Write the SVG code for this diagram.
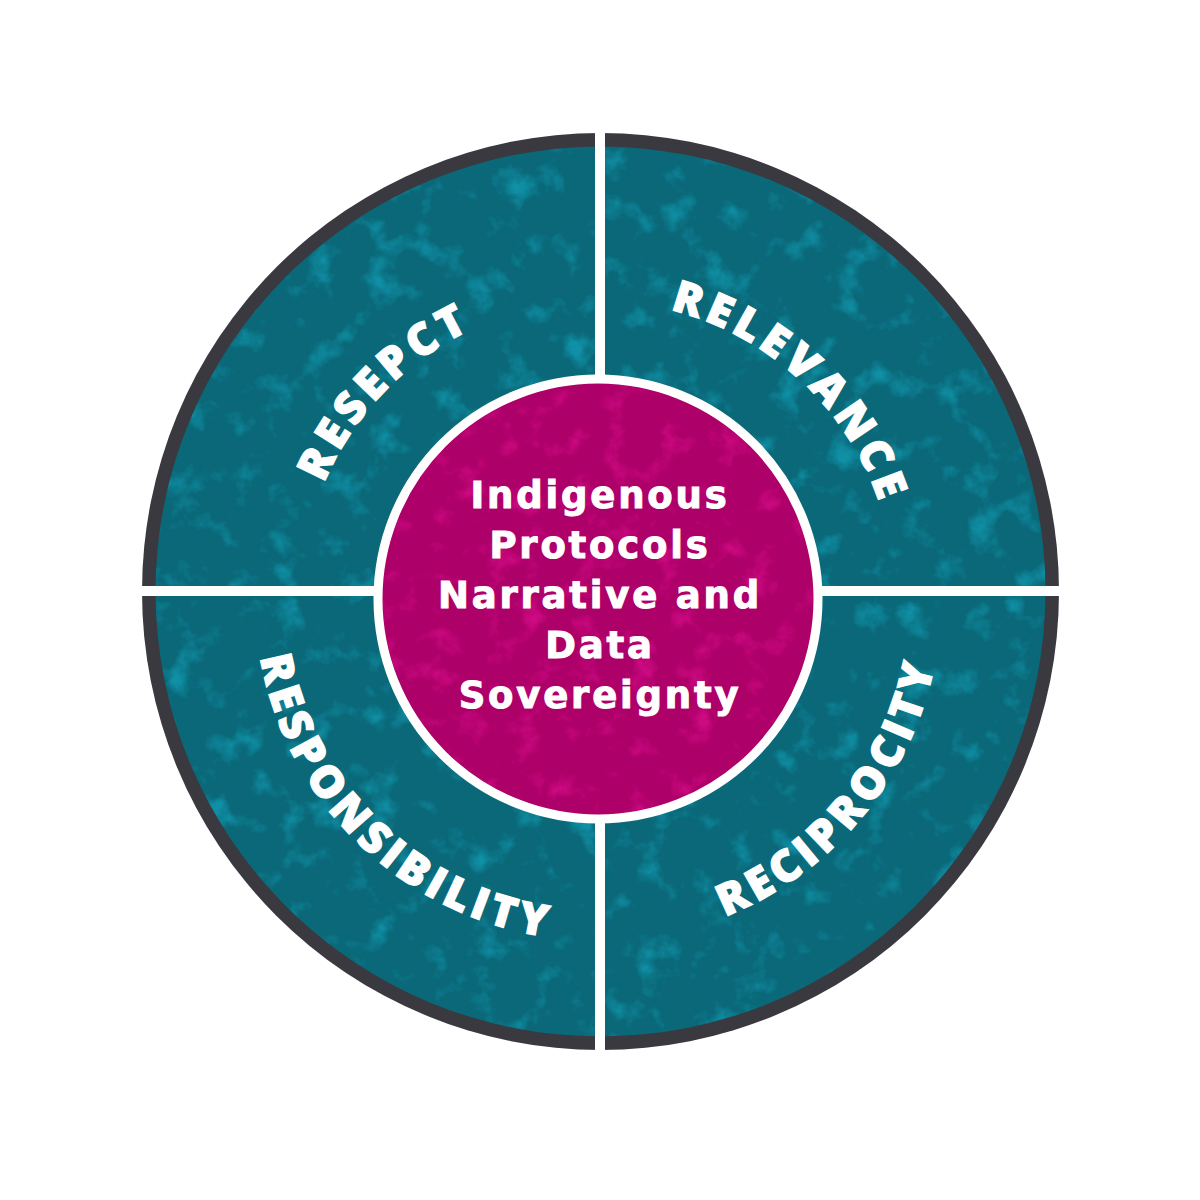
<svg xmlns="http://www.w3.org/2000/svg" width="1200" height="1200" viewBox="0 0 1200 1200">
  <style>
    .ring-text { font-family: "Open Sans", "Noto Sans", "DejaVu Sans", sans-serif; font-weight: 800; font-size: 44px; fill: #ffffff; stroke: #ffffff; stroke-width: 1.2px; letter-spacing: 5px; }
    .center-text { font-family: "DejaVu Sans", "Verdana", sans-serif; font-weight: bold; font-size: 37px; fill: #ffffff; stroke: #ffffff; stroke-width: 1px; letter-spacing: 2.8px; text-anchor: middle; }
    .divider { fill: #ffffff; }
  </style>
  <defs>
    <filter id="grungeTeal" x="0" y="0" width="100%" height="100%" color-interpolation-filters="sRGB">
      <feTurbulence type="fractalNoise" baseFrequency="0.03" numOctaves="4" seed="7" result="n"/>
      <feColorMatrix in="n" type="matrix" values="0 0 0 0 0.1  0 0 0 0 0.8  0 0 0 0 0.92  3.4 0 0 0 -1.85" result="c"/>
      <feComposite in="c" in2="SourceAlpha" operator="in"/>
    </filter>
    <filter id="grungePink" x="0" y="0" width="100%" height="100%" color-interpolation-filters="sRGB">
      <feTurbulence type="fractalNoise" baseFrequency="0.035" numOctaves="4" seed="11" result="n"/>
      <feColorMatrix in="n" type="matrix" values="0 0 0 0 0.98  0 0 0 0 0.1  0 0 0 0 0.65  3.4 0 0 0 -1.9" result="c"/>
      <feComposite in="c" in2="SourceAlpha" operator="in"/>
    </filter>
    <path id="arcRespect" d="M312.5,679.9 A297,297 0 0 1 669.8,309.8"/>
    <path id="arcRelevance" d="M511.2,314 A297,297 0 0 1 887.4,664.8"/>
    <path id="arcResponsibility" d="M265.2,515 A343,343 0 0 0 692.5,927.7"/>
    <path id="arcReciprocity" d="M541.4,936.3 A343,343 0 0 0 919.3,477.9"/>
  </defs>

  <rect width="1200" height="1200" fill="#ffffff"/>

  <g id="outer-wheel">
    <circle cx="600.5" cy="591.5" r="458.5" fill="#3a393f"/>
    <circle cx="600.5" cy="591.5" r="445" fill="#0a6878"/>
    <circle cx="600.5" cy="591.5" r="445" fill="#0a6878" filter="url(#grungeTeal)" opacity="0.4"/>
  </g>

  <g id="connectors">
    <rect class="divider" x="595" y="125" width="10" height="935"/>
    <rect class="divider" x="135" y="586" width="930" height="10"/>
  </g>

  <g id="node-respect">
    <text class="ring-text"><textPath href="#arcRespect" startOffset="50%" text-anchor="middle">RESEPCT</textPath></text>
  </g>
  <g id="node-relevance">
    <text class="ring-text"><textPath href="#arcRelevance" startOffset="50%" text-anchor="middle">RELEVANCE</textPath></text>
  </g>
  <g id="node-responsibility">
    <text class="ring-text"><textPath href="#arcResponsibility" startOffset="50%" text-anchor="middle">RESPONSIBILITY</textPath></text>
  </g>
  <g id="node-reciprocity">
    <text class="ring-text"><textPath href="#arcReciprocity" startOffset="50%" text-anchor="middle">RECIPROCITY</textPath></text>
  </g>

  <g id="node-center">
    <circle cx="598" cy="599" r="220" fill="#ae0069" stroke="#ffffff" stroke-width="9"/>
    <circle cx="598" cy="599" r="215" fill="#ae0069" filter="url(#grungePink)" opacity="0.4"/>
    <text class="center-text" x="600" y="508">Indigenous</text>
    <text class="center-text" x="600" y="558">Protocols</text>
    <text class="center-text" x="600" y="608">Narrative and</text>
    <text class="center-text" x="600" y="658">Data</text>
    <text class="center-text" x="600" y="708">Sovereignty</text>
  </g>
</svg>
